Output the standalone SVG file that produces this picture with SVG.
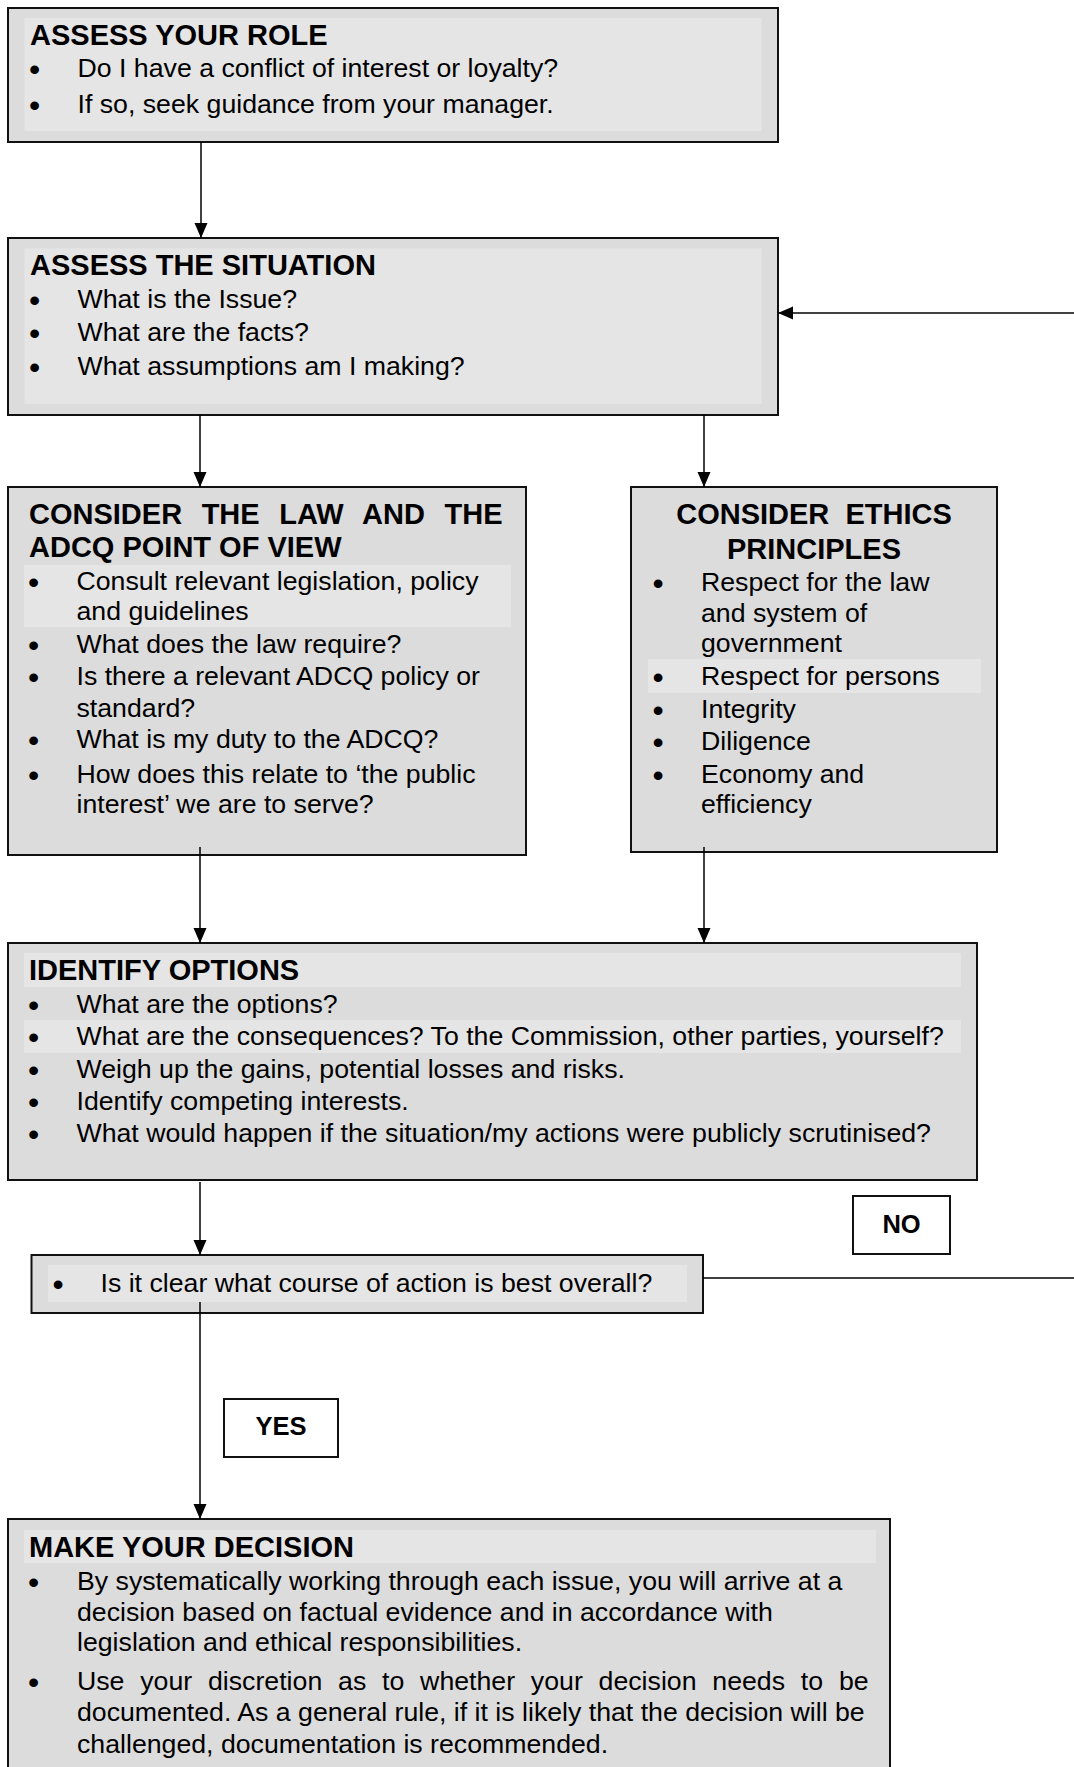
<svg xmlns="http://www.w3.org/2000/svg" width="1074" height="1767" viewBox="0 0 1074 1767">
<defs>
<style>
.box{fill:#dcdcdc;stroke:#111;stroke-width:2}
.panel{fill:#e5e5e5;stroke:none}
.lbl{fill:#fff;stroke:#111;stroke-width:2}
text{font-family:"Liberation Sans",Arial,Helvetica,sans-serif;fill:#000}
.t{font-size:26.7px}
.h{font-size:29px;font-weight:bold}
.b{font-size:32px;text-anchor:middle;transform:translate(0px,3px)}
.lt{font-size:25.5px;font-weight:bold;text-anchor:middle}
.conn{stroke:#000;stroke-width:1.5;fill:none}
</style>
<marker id="arr" markerUnits="userSpaceOnUse" markerWidth="16" markerHeight="14" refX="15" refY="6.5" orient="auto">
<path d="M0,0 L15,6.5 L0,13 z" fill="#000"/>
</marker>
</defs>
<rect width="1074" height="1767" fill="#fff"/>

<g id="assess-role">
<rect class="box" x="8" y="8" width="770" height="134"/>
<rect class="panel" x="24.5" y="18" width="737" height="113"/>
<text class="h" x="30" y="45">ASSESS YOUR ROLE</text>
<text class="b" x="34.5" y="77">•</text>
<text class="t" x="77.5" y="77">Do I have a conflict of interest or loyalty?</text>
<text class="b" x="34.5" y="113">•</text>
<text class="t" x="77.5" y="113">If so, seek guidance from your manager.</text>
</g>

<g id="assess-situation">
<rect class="box" x="8" y="238" width="770" height="177"/>
<rect class="panel" x="24.5" y="248.5" width="737" height="155.5"/>
<text class="h" x="30" y="275">ASSESS THE SITUATION</text>
<text class="b" x="34.5" y="308">•</text>
<text class="t" x="77.5" y="308">What is the Issue?</text>
<text class="b" x="34.5" y="341">•</text>
<text class="t" x="77.5" y="341">What are the facts?</text>
<text class="b" x="34.5" y="375">•</text>
<text class="t" x="77.5" y="375">What assumptions am I making?</text>
</g>

<g id="consider-law">
<rect class="box" x="8" y="487" width="518" height="368"/>
<rect class="panel" x="24" y="565" width="487" height="62"/>
<text class="h" x="29" y="524" word-spacing="11.5">CONSIDER THE LAW AND THE</text>
<text class="h" x="29" y="557">ADCQ POINT OF VIEW</text>
<text class="b" x="33.5" y="590">•</text>
<text class="t" x="76.5" y="590">Consult relevant legislation, policy</text>
<text class="t" x="76.5" y="620">and guidelines</text>
<text class="b" x="33.5" y="653">•</text>
<text class="t" x="76.5" y="653">What does the law require?</text>
<text class="b" x="33.5" y="685">•</text>
<text class="t" x="76.5" y="685">Is there a relevant ADCQ policy or</text>
<text class="t" x="76.5" y="717">standard?</text>
<text class="b" x="33.5" y="748">•</text>
<text class="t" x="76.5" y="748">What is my duty to the ADCQ?</text>
<text class="b" x="33.5" y="783">•</text>
<text class="t" x="76.5" y="783">How does this relate to ‘the public</text>
<text class="t" x="76.5" y="813">interest’ we are to serve?</text>
</g>

<g id="consider-ethics">
<rect class="box" x="631" y="487" width="366" height="365"/>
<rect class="panel" x="648" y="659" width="333" height="34"/>
<text class="h" x="814" y="524" text-anchor="middle" xml:space="preserve">CONSIDER  ETHICS</text>
<text class="h" x="814" y="559" text-anchor="middle">PRINCIPLES</text>
<text class="b" x="658" y="591">•</text>
<text class="t" x="701" y="591">Respect for the law</text>
<text class="t" x="701" y="622">and system of</text>
<text class="t" x="701" y="652">government</text>
<text class="b" x="658" y="685">•</text>
<text class="t" x="701" y="685">Respect for persons</text>
<text class="b" x="658" y="718">•</text>
<text class="t" x="701" y="718">Integrity</text>
<text class="b" x="658" y="750">•</text>
<text class="t" x="701" y="750">Diligence</text>
<text class="b" x="658" y="783">•</text>
<text class="t" x="701" y="783">Economy and</text>
<text class="t" x="701" y="813">efficiency</text>
</g>

<g id="identify-options">
<rect class="box" x="8" y="943" width="969" height="237"/>
<rect class="panel" x="24" y="953" width="937" height="34"/>
<rect class="panel" x="24" y="1020" width="937" height="33"/>
<text class="h" x="29" y="980">IDENTIFY OPTIONS</text>
<text class="b" x="33.5" y="1013">•</text>
<text class="t" x="76.5" y="1013">What are the options?</text>
<text class="b" x="33.5" y="1045">•</text>
<text class="t" x="76.5" y="1045">What are the consequences? To the Commission, other parties, yourself?</text>
<text class="b" x="33.5" y="1078">•</text>
<text class="t" x="76.5" y="1078">Weigh up the gains, potential losses and risks.</text>
<text class="b" x="33.5" y="1110">•</text>
<text class="t" x="76.5" y="1110">Identify competing interests.</text>
<text class="b" x="33.5" y="1142">•</text>
<text class="t" x="76.5" y="1142">What would happen if the situation/my actions were publicly scrutinised?</text>
</g>

<g id="question">
<rect class="box" x="31.5" y="1255" width="671.5" height="58"/>
<rect class="panel" x="48" y="1265" width="639" height="37"/>
<text class="b" x="58" y="1292">•</text>
<text class="t" x="100.5" y="1292">Is it clear what course of action is best overall?</text>
</g>

<g id="label-no">
<rect class="lbl" x="853" y="1196" width="97" height="58"/>
<text class="lt" x="901.5" y="1233">NO</text>
</g>

<g id="label-yes">
<rect class="lbl" x="224" y="1399" width="114" height="58"/>
<text class="lt" x="281" y="1435">YES</text>
</g>

<g id="make-decision">
<rect class="box" x="8" y="1519" width="882" height="270"/>
<rect class="panel" x="24" y="1530" width="852" height="33"/>
<text class="h" x="29" y="1557">MAKE YOUR DECISION</text>
<text class="b" x="33.5" y="1590">•</text>
<text class="t" x="77" y="1590">By systematically working through each issue, you will arrive at a</text>
<text class="t" x="77" y="1621">decision based on factual evidence and in accordance with</text>
<text class="t" x="77" y="1651">legislation and ethical responsibilities.</text>
<text class="b" x="33.5" y="1690">•</text>
<text class="t" x="77" y="1690" word-spacing="8.4">Use your discretion as to whether your decision needs to be</text>
<text class="t" x="77" y="1721">documented. As a general rule, if it is likely that the decision will be</text>
<text class="t" x="77" y="1753">challenged, documentation is recommended.</text>
</g>

<g id="connectors">
<line class="conn" x1="201" y1="142" x2="201" y2="238" marker-end="url(#arr)"/>
<line class="conn" x1="1074" y1="313" x2="778" y2="313" marker-end="url(#arr)"/>
<line class="conn" x1="200" y1="415" x2="200" y2="487" marker-end="url(#arr)"/>
<line class="conn" x1="704" y1="415" x2="704" y2="487" marker-end="url(#arr)"/>
<line class="conn" x1="200" y1="847" x2="200" y2="943" marker-end="url(#arr)"/>
<line class="conn" x1="704" y1="847" x2="704" y2="943" marker-end="url(#arr)"/>
<line class="conn" x1="200" y1="1182" x2="200" y2="1255" marker-end="url(#arr)"/>
<line class="conn" x1="703" y1="1278" x2="1074" y2="1278"/>
<line class="conn" x1="200" y1="1302" x2="200" y2="1519" marker-end="url(#arr)"/>
</g>
</svg>
